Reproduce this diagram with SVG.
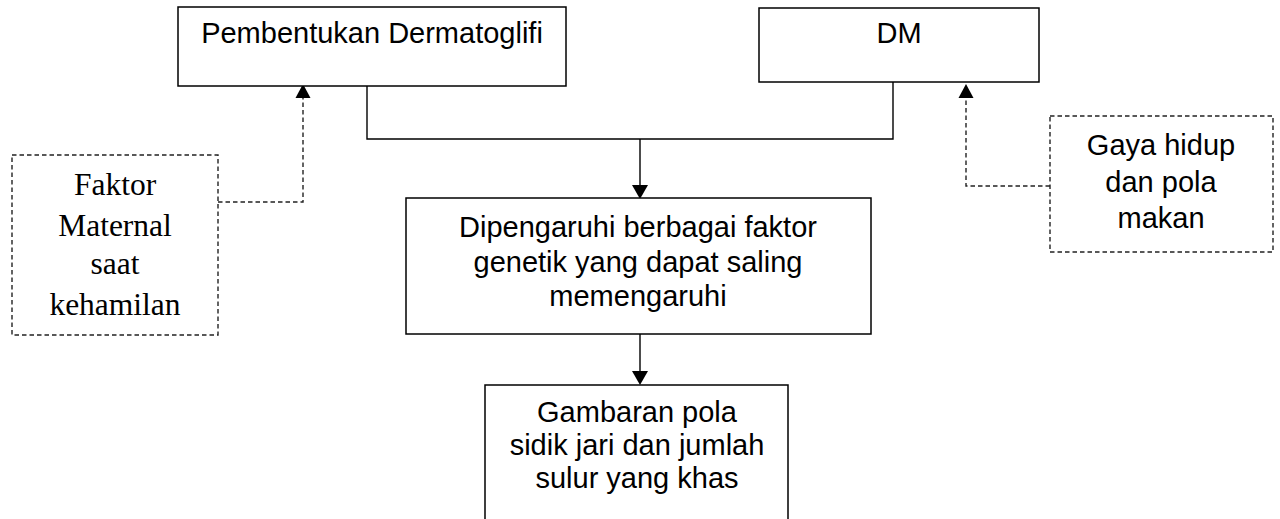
<svg xmlns="http://www.w3.org/2000/svg" width="1280" height="519" viewBox="0 0 1280 519">
<style>
.box{fill:#fff;stroke:#000;stroke-width:1.5}
.dbox{fill:#fff;stroke:#222;stroke-width:1.4;stroke-dasharray:4.5,3}
.line{fill:none;stroke:#000;stroke-width:1.4}
.dline{fill:none;stroke:#222;stroke-width:1.4;stroke-dasharray:4.5,3}
.head{fill:#000}
.t{font-family:"Liberation Sans",Arial,sans-serif;font-size:29px;fill:#000;text-anchor:middle}
.s{font-family:"Liberation Serif","Times New Roman",serif;font-size:31.5px;fill:#000;text-anchor:middle}
</style>
<g id="connectors">
<path class="line" d="M367,80 V139 H893 V79"/>
<path class="line" d="M640,139 V186"/>
<polygon class="head" points="632,185 648,185 640,199"/>
<path class="line" d="M640,326 V372"/>
<polygon class="head" points="632,371 648,371 640,385"/>
<path class="dline" d="M218,202 H303 V97"/>
<polygon class="head" points="295.5,98 310.5,98 303,84"/>
<path class="dline" d="M1050,186 H966 V97"/>
<polygon class="head" points="958.5,98 973.5,98 966,84"/>
</g>
<g id="node-pembentukan">
<rect class="box" x="178" y="7" width="388" height="79"/>
<text class="t" x="372" y="43">Pembentukan Dermatoglifi</text>
</g>
<g id="node-dm">
<rect class="box" x="759" y="8" width="280" height="74"/>
<text class="t" x="899" y="43">DM</text>
</g>
<g id="node-maternal">
<rect class="dbox" x="12" y="155" width="206" height="180"/>
<text class="s" x="115" y="195">Faktor</text>
<text class="s" x="115" y="236">Maternal</text>
<text class="s" x="115" y="274">saat</text>
<text class="s" x="115" y="315">kehamilan</text>
</g>
<g id="node-gaya">
<rect class="dbox" x="1050" y="116" width="223" height="136"/>
<text class="t" x="1161" y="155">Gaya hidup</text>
<text class="t" x="1161" y="192">dan pola</text>
<text class="t" x="1161" y="228">makan</text>
</g>
<g id="node-dipengaruhi">
<rect class="box" x="406" y="198" width="465" height="136"/>
<text class="t" x="638" y="237">Dipengaruhi berbagai faktor</text>
<text class="t" x="638" y="272">genetik yang dapat saling</text>
<text class="t" x="638" y="306">memengaruhi</text>
</g>
<g id="node-gambaran">
<path class="box" d="M485,530 V385 H788 V530"/>
<text class="t" x="637" y="422">Gambaran pola</text>
<text class="t" x="637" y="455">sidik jari dan jumlah</text>
<text class="t" x="637" y="488">sulur yang khas</text>
</g>
</svg>
